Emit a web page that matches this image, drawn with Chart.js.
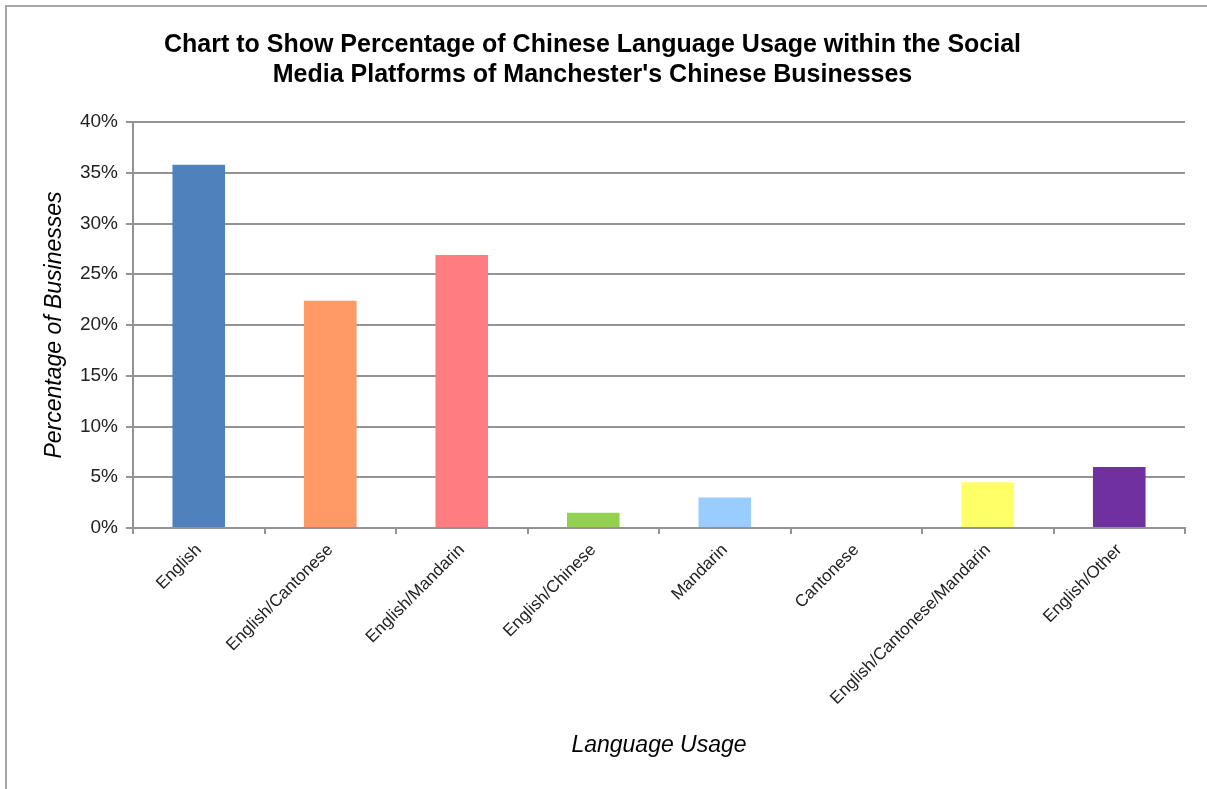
<!DOCTYPE html>
<html>
<head>
<meta charset="utf-8">
<script src="https://cdn.jsdelivr.net/npm/chart.js@4"></script>
<style>
  html, body { margin: 0; padding: 0; background: #fff; overflow: hidden; }
  #frame {
    position: absolute; left: 5px; top: 5px; width: 1300px; height: 900px;
    border-left: 2px solid #a6a6a6; border-top: 2px solid #a6a6a6;
  }
  #wrap { position: absolute; left: 0; top: 0; width: 1207px; height: 789px; }
</style>
</head>
<body>
<div id="frame"></div>
<div id="wrap"><canvas id="langChart" width="1207" height="789"></canvas></div>
<script>
// =========================
// DATA
// =========================

const categories = [
  "English",
  "English/Cantonese",
  "English/Mandarin",
  "English/Chinese",
  "Mandarin",
  "Cantonese",
  "English/Cantonese/Mandarin",
  "English/Other",
];

const percentages = [35.8, 22.4, 26.9, 1.5, 3.0, 0, 4.5, 6.0];

const barColours = [
  "#4f81bd",
  "#ff9966",
  "#ff7c80",
  "#92d050",
  "#99ccff",
  "#ffc000",
  "#ffff66",
  "#7030a0",
];

const yTicks = [0, 5, 10, 15, 20, 25, 30, 35, 40];

const titleLines = [
  "Chart to Show Percentage of Chinese Language Usage within the Social",
  "Media Platforms of Manchester's Chinese Businesses",
];

// =========================
// CHART
// =========================

const gridGrey = "#939393";
const fontName = "'Liberation Sans', Arial, sans-serif";

const langChart = new Chart(document.getElementById("langChart"), {
  type: "bar",
  data: {
    labels: categories,
    datasets: [
      {
        label: "Percentage of Businesses",
        data: percentages,
        backgroundColor: barColours,
        borderWidth: 0,
        categoryPercentage: 1,
        barPercentage: 0.4,
      },
    ],
  },
  options: {
    responsive: false,
    maintainAspectRatio: false,
    animation: false,
    devicePixelRatio: 1,
    layout: { padding: { left: 0, right: 22, top: 0, bottom: 0 } },
    plugins: {
      legend: { display: false },
      tooltip: { enabled: false },
      title: {
        display: true,
        text: titleLines,
        color: "#000",
        font: { family: fontName, size: 25, weight: "bold", lineHeight: 1.2 },
        padding: { top: 30, bottom: 32 },
      },
    },
    scales: {
      x: {
        grid: {
          display: true,
          drawOnChartArea: false,
          offset: true,
          tickLength: 6,
          color: gridGrey,
          lineWidth: 2,
        },
        border: { display: true, color: gridGrey, width: 2 },
        ticks: {
          color: "#222",
          font: { family: fontName, size: 17 },
          minRotation: 45,
          maxRotation: 45,
          autoSkip: false,
          padding: 6,
        },
        title: {
          display: true,
          text: "Language Usage",
          color: "#000",
          font: { family: fontName, size: 23, style: "italic" },
          padding: { top: 0, bottom: 30 },
        },
        afterFit: (scale) => {
          scale.height = 261;
        },
      },
      y: {
        min: 0,
        max: 40,
        afterBuildTicks: (scale) => {
          scale.ticks = yTicks.map((v) => ({ value: v }));
        },
        grid: {
          color: gridGrey,
          lineWidth: 2,
          tickLength: 7,
        },
        border: { display: true, color: gridGrey, width: 2 },
        ticks: {
          color: "#222",
          font: { family: fontName, size: 19 },
          padding: 8,
          callback: (v) => v + "%",
        },
        title: {
          display: true,
          text: "Percentage of Businesses",
          color: "#000",
          font: { family: fontName, size: 23, style: "italic" },
          padding: { top: 41, bottom: 0 },
        },
        afterFit: (scale) => {
          scale.width = 133;
        },
      },
    },
  },
});
</script>
</body>
</html>
